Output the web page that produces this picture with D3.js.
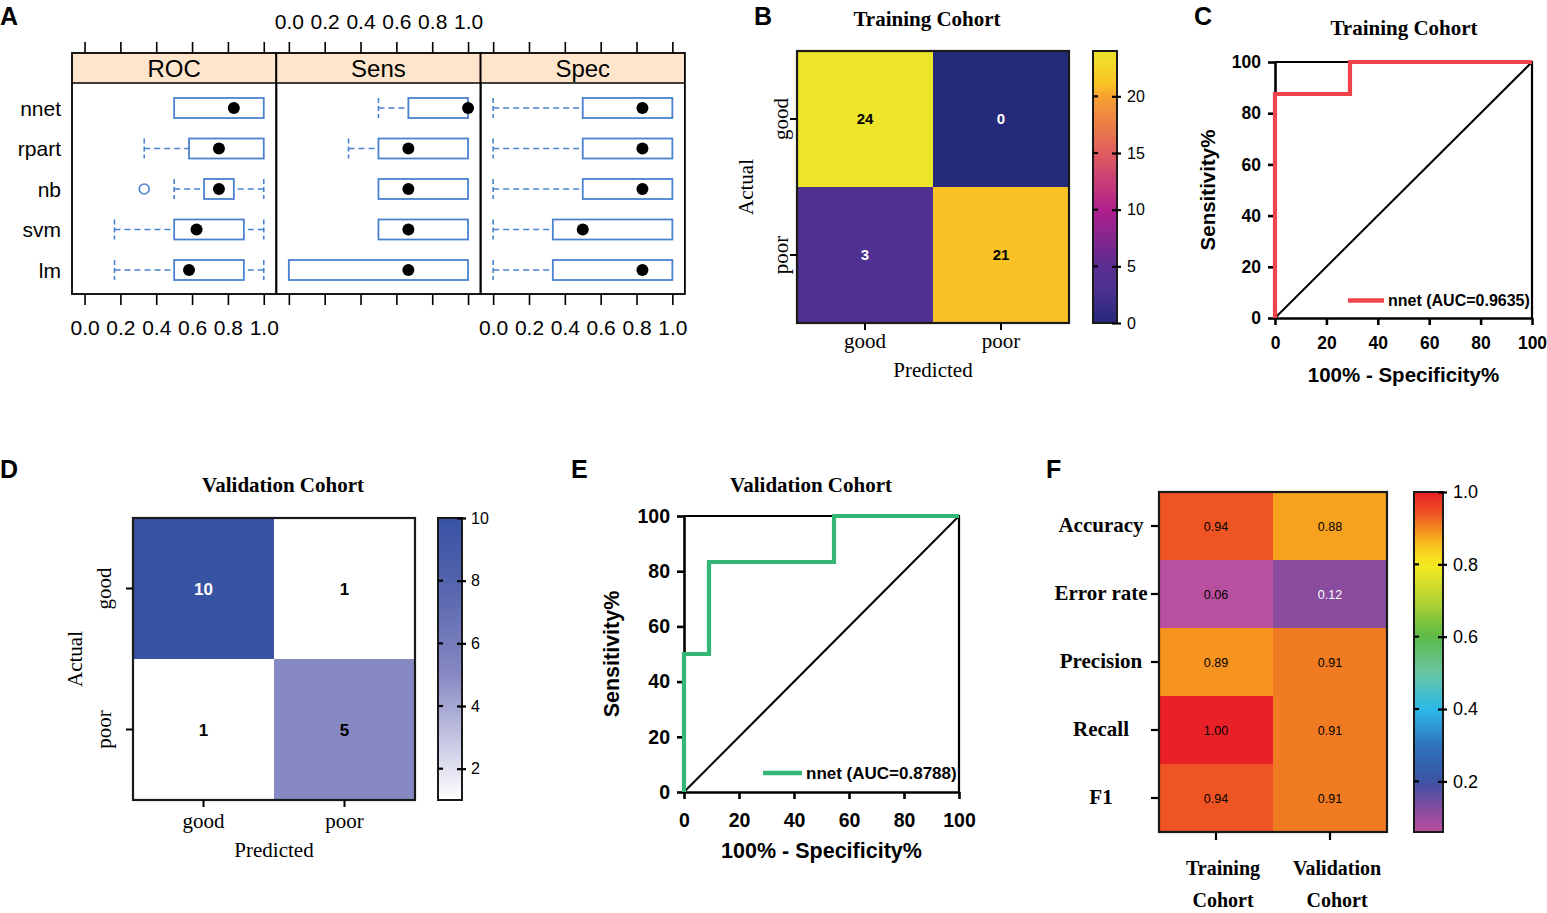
<!DOCTYPE html>
<html><head><meta charset="utf-8">
<script src="https://cdn.jsdelivr.net/npm/d3@7"></script>
<style>body{margin:0;background:#fff}svg{display:block}</style>
</head><body>
<svg id="c" width="1547" height="913"></svg>
<script>
// ---------------- DATA ----------------
const models = ["nnet","rpart","nb","svm","lm"];
const metricsA = ["ROC","Sens","Spec"];
// [min, q1, median, q3, max]
const rocStats  = [[0.5,0.5,0.833,1,1],[0.333,0.583,0.75,1,1],[0.5,0.667,0.75,0.833,1],[0.167,0.5,0.625,0.889,1],[0.167,0.5,0.583,0.889,1]];
const sensStats = [[0.5,0.667,1,1,1],[0.333,0.5,0.667,1,1],[0.5,0.5,0.667,1,1],[0.5,0.5,0.667,1,1],[0,0,0.667,1,1]];
const specStats = [[0,0.5,0.833,1,1],[0,0.5,0.833,1,1],[0,0.5,0.833,1,1],[0,0.333,0.5,1,1],[0,0.333,0.833,1,1]];
const rocOutliers = [[],[],[0.333],[],[]];
const tickA = [0,0.2,0.4,0.6,0.8,1.0];

const cmLabels = ["good","poor"];
const trainCM = [[24,0],[3,21]];
const validCM = [[10,1],[1,5]];
const trainCbTicks = [0,5,10,15,20];
const validCbTicks = [2,4,6,8,10];

const rocTicks = [0,20,40,60,80,100];
const trainFPR = [0,0,29.17,29.17,100];
const trainTPR = [0,87.5,87.5,100,100];
const validFPR = [0,0,9.09,9.09,54.55,54.55,100];
const validTPR = [0,50,50,83.33,83.33,100,100];

const fMetrics = ["Accuracy","Error rate","Precision","Recall","F1"];
const fCohorts = [["Training","Cohort"],["Validation","Cohort"]];
const fTrain = [0.94,0.06,0.89,1.00,0.94];
const fValid = [0.88,0.12,0.91,0.91,0.91];
const fCbTicks = [0.2,0.4,0.6,0.8,1.0];

// ---------------- HELPERS ----------------
const svg = d3.select("#c");
const SANS = "'Liberation Sans', Arial, sans-serif";
const SERIF = "'Liberation Serif', 'Times New Roman', serif";
const boxBlue = "#4a82d0";

function txt(g,x,y,s,o={}){
  const t=g.append("text").attr("x",x).attr("y",y).text(s)
    .attr("font-family",o.ff||SANS).attr("font-size",o.fs||16)
    .attr("font-weight",o.fw||"normal").attr("text-anchor",o.anchor||"start")
    .attr("fill",o.fill||"#000");
  if(o.rot) t.attr("transform",`rotate(-90,${x},${y})`);
  return t;
}
function textFill(c){ return d3.lab(c).l < 46 ? "#fff" : "#000"; }

// Panel letters
[["A",0,25],["B",754,25],["C",1194,25],["D",0,478],["E",571,478],["F",1046,478]]
  .forEach(([s,x,y])=>txt(svg,x,y,s,{fs:25,fw:"bold"}));

// ---------------- PANEL A ----------------
const A={left:72,w:204.3,stripTop:53,stripH:30,bottom:294};
const yA=d3.scalePoint().domain(models).range([108,270]);
const statsA=[rocStats,sensStats,specStats];
models.forEach(m=>txt(svg,61,yA(m)+7.5,m,{fs:21,anchor:"end"}));
metricsA.forEach((m,i)=>{
  const x0=A.left+i*A.w, x1=x0+A.w;
  const xs=d3.scaleLinear().domain([-0.07,1.07]).range([x0,x1]);
  const g=svg.append("g");
  g.append("rect").attr("x",x0).attr("y",A.stripTop).attr("width",A.w).attr("height",A.stripH).attr("fill","#ffe5cc");
  txt(g,(x0+x1)/2,A.stripTop+A.stripH/2+8.5,m,{fs:24,anchor:"middle"});
  statsA[i].forEach((s,k)=>{
    const cy=yA(models[k]); const [mn,q1,md,q3,mx]=s; const h=10;
    const dash=(xa,xb)=>{
      g.append("line").attr("x1",xs(xa)).attr("x2",xs(xb)).attr("y1",cy).attr("y2",cy)
        .attr("stroke",boxBlue).attr("stroke-width",1.6).attr("stroke-dasharray","6,4");
      g.append("line").attr("x1",xs(xa)).attr("x2",xs(xa)).attr("y1",cy-h).attr("y2",cy+h)
        .attr("stroke",boxBlue).attr("stroke-width",1.6).attr("stroke-dasharray","5,3");
    };
    if(mn<q1) dash(mn,q1);
    if(mx>q3) dash(mx,q3);
    g.append("rect").attr("x",xs(q1)).attr("y",cy-h).attr("width",Math.max(0,xs(q3)-xs(q1))).attr("height",2*h)
      .attr("fill","none").attr("stroke",boxBlue).attr("stroke-width",1.8);
    g.append("circle").attr("cx",xs(md)).attr("cy",cy).attr("r",6).attr("fill","#000");
    if(i===0) rocOutliers[k].forEach(v=>g.append("circle").attr("cx",xs(v)).attr("cy",cy).attr("r",5)
      .attr("fill","none").attr("stroke",boxBlue).attr("stroke-width",1.6));
  });
  g.append("rect").attr("x",x0).attr("y",A.stripTop).attr("width",A.w).attr("height",A.bottom-A.stripTop)
    .attr("fill","none").attr("stroke","#000").attr("stroke-width",1.8);
  g.append("line").attr("x1",x0).attr("x2",x1).attr("y1",A.stripTop+A.stripH).attr("y2",A.stripTop+A.stripH)
    .attr("stroke","#000").attr("stroke-width",1.6);
  const fmt=d3.format(".1f");
  const top=g.append("g").attr("transform",`translate(0,${A.stripTop})`)
    .call(d3.axisTop(xs).tickValues(tickA).tickSize(11).tickPadding(13).tickFormat(i===1?fmt:()=>""));
  const bot=g.append("g").attr("transform",`translate(0,${A.bottom})`)
    .call(d3.axisBottom(xs).tickValues(tickA).tickSize(11).tickPadding(15).tickFormat(i!==1?fmt:()=>""));
  [top,bot].forEach(a=>{a.select(".domain").remove();
    a.attr("font-family",SANS).attr("font-size",21);
    a.selectAll(".tick line").attr("stroke","#000").attr("stroke-width",1.6);
    a.selectAll("text").attr("fill","#000");});
});

// ---------------- CONFUSION MATRICES ----------------
function confMatrix(o){
  const xb=d3.scaleBand().domain(cmLabels).range([o.x0,o.x1]);
  const yb=d3.scaleBand().domain(cmLabels).range([o.y0,o.y1]);
  const cells=o.data.flatMap((row,i)=>row.map((v,j)=>({a:cmLabels[i],p:cmLabels[j],v})));
  const g=svg.append("g");
  g.selectAll("rect.cell").data(cells).join("rect").attr("class","cell")
    .attr("x",d=>xb(d.p)).attr("y",d=>yb(d.a)).attr("width",xb.bandwidth()).attr("height",yb.bandwidth())
    .attr("fill",d=>o.color(d.v));
  g.selectAll("text.cell").data(cells).join("text").attr("class","cell")
    .attr("x",d=>xb(d.p)+xb.bandwidth()/2).attr("y",d=>yb(d.a)+yb.bandwidth()/2).attr("dy","0.36em")
    .attr("text-anchor","middle").attr("font-family",SANS).attr("font-weight","bold").attr("font-size",o.numSize)
    .attr("fill",d=>textFill(o.color(d.v))).text(d=>d.v);
  g.append("rect").attr("x",o.x0).attr("y",o.y0).attr("width",o.x1-o.x0).attr("height",o.y1-o.y0)
    .attr("fill","none").attr("stroke","#1a1a1a").attr("stroke-width",2.2);
  const la=g.append("g").attr("transform",`translate(${o.x0},0)`).call(d3.axisLeft(yb).tickSize(7).tickSizeOuter(0));
  la.select(".domain").remove();
  la.attr("font-family",SERIF).attr("font-size",21);
  la.selectAll(".tick line").attr("stroke","#000").attr("stroke-width",2);
  la.selectAll("text").attr("transform","rotate(-90)").attr("x",0).attr("y",-o.yLabOff).attr("dy",0)
    .attr("text-anchor","middle").attr("fill","#000");
  const ba=g.append("g").attr("transform",`translate(0,${o.y1})`).call(d3.axisBottom(xb).tickSize(7).tickSizeOuter(0));
  ba.select(".domain").remove();
  ba.attr("font-family",SERIF).attr("font-size",21);
  ba.selectAll(".tick line").attr("stroke","#000").attr("stroke-width",2);
  ba.selectAll("text").attr("y",o.xLabOff).attr("dy",0).attr("fill","#000");
  txt(g,o.actualX,(o.y0+o.y1)/2,"Actual",{ff:SERIF,fs:21,anchor:"middle",rot:true});
  txt(g,(o.x0+o.x1)/2,o.predY,"Predicted",{ff:SERIF,fs:21,anchor:"middle"});
  txt(g,o.titleX,o.titleY,o.title,{ff:SERIF,fs:21,fw:"bold",anchor:"middle"});
  colorbar(g,o.cb);
}
function colorbar(g,cb){
  const id="grad"+Math.random().toString(36).slice(2,8);
  const grad=svg.append("defs").append("linearGradient").attr("id",id).attr("x1",0).attr("y1",1).attr("x2",0).attr("y2",0);
  const [d0,d1]=cb.domain;
  d3.range(0,1.0001,0.02).forEach(t=>grad.append("stop").attr("offset",t).attr("stop-color",cb.color(d0+t*(d1-d0))));
  const ys=d3.scaleLinear().domain(cb.domain).range([cb.y1,cb.y0]);
  g.append("rect").attr("x",cb.x).attr("y",cb.y0).attr("width",cb.w).attr("height",cb.y1-cb.y0)
    .attr("fill",`url(#${id})`).attr("stroke","#1a1a1a").attr("stroke-width",2);
  const ax=g.append("g").attr("transform",`translate(${cb.x+cb.w},0)`)
    .call(d3.axisRight(ys).tickValues(cb.ticks).tickSize(4).tickPadding(cb.pad).tickFormat(cb.fmt||(d=>d)));
  ax.select(".domain").remove();
  ax.attr("font-family",SANS).attr("font-size",cb.fs);
  ax.selectAll(".tick line").attr("x1",-5).attr("stroke","#000").attr("stroke-width",2.2);
  ax.selectAll("text").attr("fill","#000");
  g.selectAll(null).data(cb.ticks.filter(v=>v!==d1&&v!==d0)).join("line")
    .attr("x1",cb.x).attr("x2",cb.x+5).attr("y1",d=>ys(d)).attr("y2",d=>ys(d)).attr("stroke","#000").attr("stroke-width",2.2);
}

const plasma=d3.scaleLinear().domain([0,3,5,10,15,20,21,24])
  .range(["#25297a","#4e3191","#5a2e90","#b01f8e","#e05c5e","#f6a131","#fbc226","#ece52a"]);
confMatrix({x0:797,x1:1069,y0:51,y1:323,data:trainCM,color:plasma,numSize:15,yLabOff:9,xLabOff:25,
  actualX:753,predY:377,title:"Training Cohort",titleX:927,titleY:26,
  cb:{x:1093,w:24,y0:51,y1:323,domain:[0,24],ticks:trainCbTicks,color:plasma,fs:16,pad:6}});
const blues=d3.scaleLinear().domain([1,5,8,10]).range(["#ffffff","#8789c3","#5363ad","#3953a4"]);
confMatrix({x0:133,x1:415,y0:518,y1:800,data:validCM,color:blues,numSize:17,yLabOff:22,xLabOff:28,
  actualX:82,predY:857,title:"Validation Cohort",titleX:283,titleY:492,
  cb:{x:438,w:24,y0:518,y1:800,domain:[1,10],ticks:validCbTicks,color:blues,fs:16,pad:5}});

// ---------------- ROC PANELS ----------------
function rocPanel(o){
  const x=d3.scaleLinear().domain([0,100]).range([o.x0,o.x1]);
  const y=d3.scaleLinear().domain([0,100]).range([o.y0,o.y1]);
  const g=svg.append("g");
  g.append("path").attr("d",`M${x(0)},${y(100)}H${x(100)}V${y(0)}`).attr("fill","none").attr("stroke","#000").attr("stroke-width",2.2);
  const xa=g.append("g").attr("transform",`translate(0,${o.y0})`)
    .call(d3.axisBottom(x).tickValues(rocTicks).tickSize(7).tickSizeOuter(0).tickPadding(o.padX));
  const ya=g.append("g").attr("transform",`translate(${o.x0},0)`)
    .call(d3.axisLeft(y).tickValues(rocTicks).tickSize(7).tickSizeOuter(0).tickPadding(o.padY));
  [xa,ya].forEach(a=>{a.attr("font-family",SANS).attr("font-size",o.tickFs).attr("font-weight","bold");
    a.select(".domain").attr("stroke","#000").attr("stroke-width",2.6);
    a.selectAll(".tick line").attr("stroke","#000").attr("stroke-width",2.6);
    a.selectAll("text").attr("fill","#000");});
  g.append("line").attr("x1",x(0)).attr("y1",y(0)).attr("x2",x(100)).attr("y2",y(100)).attr("stroke","#000").attr("stroke-width",2);
  const line=d3.line().x(d=>x(d[0])).y(d=>y(d[1]));
  g.append("path").datum(d3.zip(o.fpr,o.tpr)).attr("d",line).attr("fill","none")
    .attr("stroke",o.color).attr("stroke-width",4.2).attr("stroke-linejoin","miter");
  g.append("line").attr("x1",o.legX1).attr("x2",o.legX2).attr("y1",o.legY).attr("y2",o.legY).attr("stroke",o.color).attr("stroke-width",4.5);
  txt(g,o.legX2+4,o.legY+o.legFs*0.36,o.label,{fs:o.legFs,fw:"bold"});
  txt(g,(o.x0+o.x1)/2,o.xTitleY,"100% - Specificity%",{fs:o.titleFs,fw:"bold",anchor:"middle"});
  txt(g,o.yTitleX,(o.y0+o.y1)/2,"Sensitivity%",{fs:o.titleFs,fw:"bold",anchor:"middle",rot:true});
  txt(g,o.titleX,o.titleY,o.title,{ff:SERIF,fs:21,fw:"bold",anchor:"middle"});
}
rocPanel({x0:1275,x1:1532,y0:318,y1:62,fpr:trainFPR,tpr:trainTPR,color:"#f0434b",label:"nnet (AUC=0.9635)",
  legX1:1348,legX2:1384,legY:300.5,legFs:16,tickFs:17.5,titleFs:20.5,padX:12,padY:7,
  xTitleY:382,yTitleX:1215,title:"Training Cohort",titleX:1404,titleY:35});
rocPanel({x0:684,x1:959,y0:792,y1:516,fpr:validFPR,tpr:validTPR,color:"#34b677",label:"nnet (AUC=0.8788)",
  legX1:763,legX2:802,legY:773,legFs:17,tickFs:19.5,titleFs:21.5,padX:14,padY:7,
  xTitleY:858,yTitleX:619,title:"Validation Cohort",titleX:811,titleY:492});

// ---------------- PANEL F ----------------
(function(){
  const rainbow=d3.scaleLinear()
    .domain([0.06,0.12,0.2,0.3,0.4,0.5,0.6,0.7,0.8,0.85,0.88,0.89,0.91,0.94,1.0])
    .range(["#b84f9f","#8a4c9f","#3b52a3","#2f74bb","#2cb9ea","#6ac6a2","#5bb947","#b5d334","#f6eb1f","#f8c61d","#f7a21e","#f6941f","#f17b22","#ef5424","#e92027"]);
  const x0=1159,x1=1387,y0=492,y1=832;
  const xF=d3.scaleBand().domain([0,1]).range([x0,x1]);
  const yF=d3.scaleBand().domain(fMetrics).range([y0,y1]);
  const cells=fMetrics.flatMap((m,i)=>[{m,c:0,v:fTrain[i]},{m,c:1,v:fValid[i]}]);
  const g=svg.append("g");
  g.selectAll("rect.cell").data(cells).join("rect").attr("class","cell")
    .attr("x",d=>xF(d.c)).attr("y",d=>yF(d.m)).attr("width",xF.bandwidth()).attr("height",yF.bandwidth())
    .attr("fill",d=>rainbow(d.v));
  g.selectAll("text.cell").data(cells).join("text").attr("class","cell")
    .attr("x",d=>xF(d.c)+xF.bandwidth()/2).attr("y",d=>yF(d.m)+yF.bandwidth()/2).attr("dy","0.36em")
    .attr("text-anchor","middle").attr("font-family",SANS).attr("font-size",12.5)
    .attr("fill",d=>textFill(rainbow(d.v))).text(d=>d3.format(".2f")(d.v));
  g.append("rect").attr("x",x0).attr("y",y0).attr("width",x1-x0).attr("height",y1-y0)
    .attr("fill","none").attr("stroke","#1a1a1a").attr("stroke-width",2.2);
  const la=g.append("g").attr("transform",`translate(${x0},0)`).call(d3.axisLeft(yF).tickSize(8).tickSizeOuter(0));
  la.select(".domain").remove();
  la.attr("font-family",SERIF).attr("font-size",21).attr("font-weight","bold");
  la.selectAll(".tick line").attr("stroke","#000").attr("stroke-width",2.2);
  la.selectAll("text").attr("x",-58).attr("dy","0.3em").attr("text-anchor","middle").attr("fill","#000");
  const ba=g.append("g").attr("transform",`translate(0,${y1})`).call(d3.axisBottom(xF).tickSize(8).tickSizeOuter(0).tickFormat(()=>""));
  ba.select(".domain").remove();
  ba.selectAll(".tick line").attr("stroke","#000").attr("stroke-width",2.2);
  fCohorts.forEach((lines,c)=>lines.forEach((s,k)=>
    txt(g,xF(c)+xF.bandwidth()/2+7,875+k*32,s,{ff:SERIF,fs:20,fw:"bold",anchor:"middle"})));
  colorbar(g,{x:1414,w:29,y0:492,y1:832,domain:[0.06,1.0],ticks:fCbTicks,color:rainbow,fs:18,pad:6,fmt:d3.format(".1f")});
})();
</script></body></html>
